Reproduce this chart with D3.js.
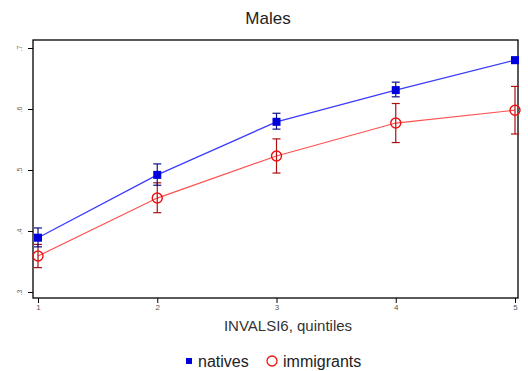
<!DOCTYPE html>
<html><head><meta charset="utf-8">
<script src="https://cdn.jsdelivr.net/npm/d3@7"></script>
<style>body{margin:0;background:#fff}</style>
</head><body>
<svg id="c" width="528" height="371"></svg>
<script>
const quintiles = [1, 2, 3, 4, 5];
const yTicks = [0.3, 0.4, 0.5, 0.6, 0.7];
const yTickLabels = [".3", ".4", ".5", ".6", ".7"];
const nativesMean = [0.389, 0.492, 0.579, 0.631, 0.680];
const nativesLo = [0.374, 0.475, 0.567, 0.620, 0.675];
const nativesHi = [0.405, 0.510, 0.593, 0.644, 0.685];
const immMean = [0.359, 0.454, 0.523, 0.577, 0.598];
const immLo = [0.340, 0.430, 0.495, 0.545, 0.559];
const immHi = [0.378, 0.479, 0.551, 0.609, 0.637];

const svg = d3.select("#c");
const L = 33, R = 518, T = 40, B = 298;
const x = d3.scaleLinear().domain([1, 5]).range([38, 515]);
const y = d3.scaleLinear().domain([0.3, 0.7]).range([292, 48]);
const FF = "Arial, Liberation Sans";

svg.append("rect").attr("x", L).attr("y", T).attr("width", R - L).attr("height", B - T)
  .attr("fill", "none").attr("stroke", "#000").attr("stroke-width", 1.3);

const xa = svg.append("g").attr("transform", `translate(0,${B})`)
  .call(d3.axisBottom(x).tickValues(quintiles).tickSize(5).tickFormat(d3.format("d")));
xa.select(".domain").remove();
xa.selectAll("text").attr("font-family", FF).attr("font-size", 8).attr("fill", "#555").attr("dy", "0.5em");

const ya = svg.append("g").attr("transform", `translate(${L},0)`)
  .call(d3.axisLeft(y).tickValues(yTicks).tickSize(5).tickFormat((d, i) => yTickLabels[i]));
ya.select(".domain").remove();
ya.selectAll("text").attr("font-family", FF).attr("font-size", 7).attr("fill", "#666")
  .attr("x", 0).attr("dy", 0).attr("text-anchor", "middle")
  .attr("transform", "translate(-11,0) rotate(-90)");

svg.append("text").attr("x", 268).attr("y", 24).attr("text-anchor", "middle")
  .attr("font-family", FF).attr("font-size", 17).attr("fill", "#222").text("Males");
svg.append("text").attr("x", 288).attr("y", 331).attr("text-anchor", "middle")
  .attr("font-family", FF).attr("font-size", 15).attr("fill", "#333").text("INVALSI6, quintiles");

const line = d3.line().x((d, i) => x(quintiles[i])).y(d => y(d));

function series(mean, lo, hi, lineCol, barCol, w) {
  svg.append("path").datum(mean).attr("d", line).attr("fill", "none").attr("stroke", lineCol).attr("stroke-width", w);
  const g = svg.append("g");
  quintiles.forEach((q, i) => {
    g.append("line").attr("x1", x(q)).attr("x2", x(q)).attr("y1", y(lo[i])).attr("y2", y(hi[i])).attr("stroke", barCol).attr("stroke-width", 1.2);
    [lo[i], hi[i]].forEach(v => g.append("line").attr("x1", x(q) - 4).attr("x2", x(q) + 4).attr("y1", y(v)).attr("y2", y(v)).attr("stroke", barCol).attr("stroke-width", 1.2));
  });
}
series(immMean, immLo, immHi, "#ff5050", "#aa1111", 1.2);
series(nativesMean, nativesLo, nativesHi, "#3b3bff", "#111188", 1.3);

svg.append("g").selectAll("rect").data(nativesMean).join("rect")
  .attr("x", (d, i) => x(quintiles[i]) - 4).attr("y", d => y(d) - 4).attr("width", 8).attr("height", 8).attr("fill", "#0000dd");
svg.append("g").selectAll("circle").data(immMean).join("circle")
  .attr("cx", (d, i) => x(quintiles[i])).attr("cy", d => y(d)).attr("r", 5).attr("fill", "none").attr("stroke", "#ee1111").attr("stroke-width", 1.4);

const lg = svg.append("g");
lg.append("rect").attr("x", 186).attr("y", 358).attr("width", 6).attr("height", 6).attr("fill", "#0000dd");
lg.append("text").attr("x", 198).attr("y", 367).attr("font-family", FF).attr("font-size", 16).attr("fill", "#222").text("natives");
lg.append("circle").attr("cx", 272).attr("cy", 361).attr("r", 5).attr("fill", "none").attr("stroke", "#ee1111").attr("stroke-width", 1.3);
lg.append("text").attr("x", 283).attr("y", 367).attr("font-family", FF).attr("font-size", 16).attr("fill", "#222").text("immigrants");
</script>
</body></html>
